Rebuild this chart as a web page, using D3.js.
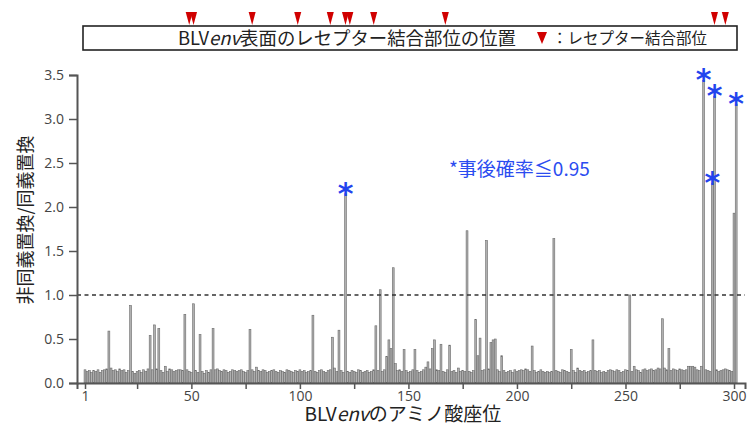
<!DOCTYPE html>
<html>
<head>
<meta charset="utf-8">
<script src="https://cdn.jsdelivr.net/npm/d3@7"></script>
<style>
  html, body { margin: 0; padding: 0; background: #fff; }
  svg { display: block; }
</style>
</head>
<body>
<svg id="chart" width="747" height="427"></svg>
<script>
// dN/dS ratio per amino-acid position (residues 1..301)
const dnds = [
  0.15, 0.13, 0.14, 0.12, 0.14, 0.13, 0.15, 0.12, 0.14, 0.15,
  0.16, 0.59, 0.17, 0.14, 0.15, 0.13, 0.16, 0.14, 0.15, 0.12,
  0.14, 0.88, 0.13, 0.11, 0.13, 0.14, 0.12, 0.15, 0.13, 0.16,
  0.54, 0.15, 0.66, 0.16, 0.62, 0.14, 0.12, 0.19, 0.13, 0.16,
  0.15, 0.13, 0.14, 0.15, 0.15, 0.14, 0.78, 0.15, 0.13, 0.12,
  0.90, 0.14, 0.12, 0.55, 0.13, 0.11, 0.14, 0.12, 0.15, 0.62,
  0.15, 0.16, 0.14, 0.13, 0.15, 0.14, 0.12, 0.13, 0.15, 0.14,
  0.13, 0.14, 0.15, 0.13, 0.12, 0.14, 0.61, 0.15, 0.13, 0.18,
  0.14, 0.13, 0.15, 0.14, 0.12, 0.13, 0.14, 0.15, 0.13, 0.12,
  0.14, 0.13, 0.12, 0.15, 0.14, 0.13, 0.12, 0.14, 0.13, 0.15,
  0.13, 0.14, 0.12, 0.13, 0.14, 0.77, 0.13, 0.12, 0.14, 0.15,
  0.13, 0.12, 0.14, 0.15, 0.52, 0.17, 0.13, 0.60, 0.14, 0.12,
  2.15, 0.13, 0.12, 0.14, 0.13, 0.12, 0.15, 0.14, 0.12, 0.13,
  0.14, 0.12, 0.13, 0.15, 0.65, 0.14, 1.06, 0.13, 0.15, 0.30,
  0.49, 0.39, 1.31, 0.22, 0.14, 0.15, 0.13, 0.38, 0.14, 0.12,
  0.13, 0.15, 0.38, 0.14, 0.12, 0.13, 0.15, 0.18, 0.24, 0.16,
  0.39, 0.49, 0.15, 0.14, 0.44, 0.13, 0.12, 0.15, 0.43, 0.13,
  0.14, 0.12, 0.17, 0.13, 0.14, 0.13, 1.73, 0.13, 0.12, 0.14,
  0.72, 0.31, 0.51, 0.14, 0.15, 1.62, 0.16, 0.46, 0.49, 0.50,
  0.15, 0.13, 0.31, 0.14, 0.12, 0.13, 0.14, 0.12, 0.15, 0.13,
  0.14, 0.15, 0.14, 0.16, 0.15, 0.13, 0.42, 0.14, 0.12, 0.13,
  0.15, 0.13, 0.12, 0.13, 0.12, 0.13, 1.64, 0.14, 0.13, 0.12,
  0.15, 0.14, 0.13, 0.12, 0.38, 0.14, 0.12, 0.17, 0.14, 0.13,
  0.14, 0.12, 0.13, 0.14, 0.49, 0.14, 0.13, 0.14, 0.12, 0.13,
  0.12, 0.14, 0.15, 0.14, 0.13, 0.15, 0.14, 0.12, 0.13, 0.15,
  0.14, 1.00, 0.13, 0.19, 0.15, 0.14, 0.12, 0.15, 0.16, 0.14,
  0.15, 0.16, 0.14, 0.15, 0.17, 0.16, 0.73, 0.17, 0.15, 0.39,
  0.14, 0.16, 0.15, 0.14, 0.16, 0.15, 0.14, 0.15, 0.19, 0.19,
  0.19, 0.18, 0.15, 0.14, 0.19, 3.44, 0.15, 0.14, 0.13, 2.27,
  3.26, 0.15, 0.13, 0.14, 0.15, 0.16, 0.15, 0.14, 0.13, 1.93,
  3.17
];
const residues = dnds.map((d, i) => i + 1);
// positions with posterior probability >= 0.95 (marked with *)
const significant = [121, 286, 290, 291, 301];
// receptor binding sites on the BLV env surface (red triangles)
const bindingSites = [49, 51, 78, 99, 114, 121, 123, 134, 167, 291, 296];
const xTickValues = [1, 25, 50, 75, 100, 125, 150, 175, 200, 225, 250, 275, 300];
const xLabelValues = [1, 50, 100, 150, 200, 250, 300];
const yTickValues = [0, 0.5, 1.0, 1.5, 2.0, 2.5, 3.0, 3.5];
const threshold = 1.0;

const svg = d3.select("#chart");
const jp = "'Noto Sans CJK JP', 'Noto Sans', sans-serif";
const num = "'Open Sans', 'Noto Sans', sans-serif";

const x = d3.scaleLinear().domain([-2.69, 305.06]).range([77, 745]);
const y = d3.scaleLinear().domain([0, 3.5]).range([383, 75]);
const step = x(2) - x(1);

// bars
svg.append("g").selectAll("rect")
  .data(residues)
  .join("rect")
  .attr("x", d => x(d) - step / 2 + 0.15)
  .attr("width", step - 0.3)
  .attr("y", d => y(dnds[d - 1]))
  .attr("height", d => y(0) - y(dnds[d - 1]))
  .attr("fill", "#b0b0b0")
  .attr("stroke", "#6a6a6a")
  .attr("stroke-width", 0.6);

// threshold dashed line
svg.append("line")
  .attr("x1", 77).attr("x2", 745)
  .attr("y1", y(threshold)).attr("y2", y(threshold))
  .attr("stroke", "#333").attr("stroke-width", 1.6)
  .attr("stroke-dasharray", "4,3.5");

// axes
const xAxis = d3.axisBottom(x)
  .tickValues(xTickValues)
  .tickSize(6).tickPadding(2)
  .tickFormat(d => xLabelValues.includes(d) ? d : "");
const gx = svg.append("g").attr("transform", `translate(0,${y(0)})`).call(xAxis);
gx.select(".domain").attr("stroke", "#555").attr("stroke-width", 2);
gx.selectAll(".tick line").attr("stroke", "#555").attr("stroke-width", 1.5);
gx.selectAll("text").attr("font-family", num).attr("font-size", 14).attr("fill", "#444");

const yAxis = d3.axisLeft(y)
  .tickValues(yTickValues)
  .tickSize(8).tickPadding(5)
  .tickFormat(d3.format(".1f"));
const gy = svg.append("g").attr("transform", `translate(77,0)`).call(yAxis);
gy.select(".domain").attr("stroke", "#555").attr("stroke-width", 2);
gy.selectAll(".tick line").attr("stroke", "#555").attr("stroke-width", 1.5);
gy.selectAll("text").attr("font-family", num).attr("font-size", 14).attr("fill", "#444");

// asterisks
svg.append("g").selectAll("text")
  .data(significant)
  .join("text")
  .attr("x", d => x(d))
  .attr("y", d => y(dnds[d - 1]) + 10)
  .attr("text-anchor", "middle")
  .attr("font-family", "'DejaVu Sans', sans-serif")
  .attr("font-weight", "bold")
  .attr("font-size", 30)
  .attr("fill", "#2244ee")
  .text("*");

// annotation
svg.append("text")
  .attr("x", 449).attr("y", 176)
  .attr("font-family", jp).attr("font-size", 19)
  .attr("fill", "#2b4cf0")
  .text("*事後確率≦0.95");

// axis titles
const xt = svg.append("text")
  .attr("x", 403).attr("y", 421)
  .attr("text-anchor", "middle")
  .attr("font-family", jp).attr("font-size", 19).attr("fill", "#222");
xt.append("tspan").text("BLV");
xt.append("tspan").attr("font-style", "italic").text("env");
xt.append("tspan").text("のアミノ酸座位");

svg.append("text")
  .attr("transform", "translate(32,220) rotate(-90)")
  .attr("text-anchor", "middle")
  .attr("font-family", jp).attr("font-size", 18).attr("fill", "#222")
  .text("非同義置換/同義置換");

// top box
svg.append("rect")
  .attr("x", 83).attr("y", 26).attr("width", 654).attr("height", 24)
  .attr("fill", "#fff").attr("stroke", "#222").attr("stroke-width", 1.6);

const tt = svg.append("text")
  .attr("x", 178).attr("y", 44.5)
  .attr("font-family", jp).attr("font-size", 18.4).attr("fill", "#222");
tt.append("tspan").text("BLV");
tt.append("tspan").attr("font-style", "italic").text("env");
tt.append("tspan").text("表面のレセプター結合部位の位置");

svg.append("path")
  .attr("d", "M537,32 L547,32 L542,44 Z")
  .attr("fill", "#d00000");
svg.append("text")
  .attr("x", 552).attr("y", 44)
  .attr("font-family", jp).attr("font-size", 15.5).attr("fill", "#222")
  .text("：レセプター結合部位");

// binding-site triangles
svg.append("g").selectAll("path")
  .data(bindingSites)
  .join("path")
  .attr("d", d => `M${x(d) - 3.5},12 L${x(d) + 3.5},12 L${x(d)},25 Z`)
  .attr("fill", "#d00000");
</script>
</body>
</html>
